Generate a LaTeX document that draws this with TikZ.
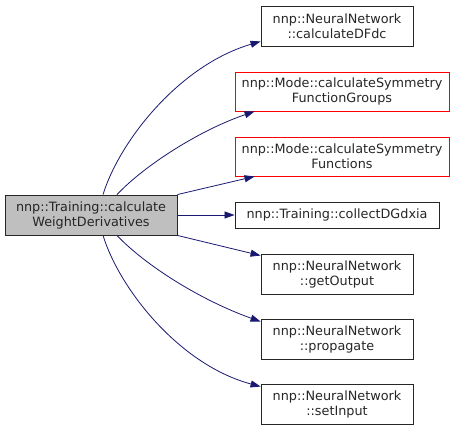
\documentclass[tikz,border=0pt]{standalone}
\usepackage{fontspec}
\setmainfont{DejaVu Sans}
\usetikzlibrary{arrows.meta}
\definecolor{edgeblue}{HTML}{191970}
\definecolor{boxgray}{HTML}{BFBFBF}

\begin{document}
\begin{tikzpicture}[x=1pt,y=-1pt,
  fn/.style={draw=black!85,line width=0.9pt,rectangle,align=center,inner sep=0pt,text=black!85,
    font=\fontsize{12.8}{15}\selectfont,minimum height=40pt,minimum width=152pt},
  redfn/.style={fn,draw=red,minimum height=39pt,minimum width=214pt},
  call/.style={draw=edgeblue,line width=0.8pt,-{Triangle[length=10pt,width=7pt]}}]
\useasboundingbox (0,0) rectangle (455,431);
\node[fn,fill=boxgray,minimum width=172pt] (main) at (91,215) {nnp::Training::calculate\\WeightDerivatives};
\node[fn] (dfdc) at (337,26) {nnp::NeuralNetwork\\::calculateDFdc};
\node[redfn] (groups) at (342,91.5) {nnp::Mode::calculateSymmetry\\FunctionGroups};
\node[redfn] (funcs) at (342,156.5) {nnp::Mode::calculateSymmetry\\Functions};
\node[fn,minimum width=204pt,minimum height=26pt] (collect) at (337,215) {nnp::Training::collectDGdxia};
\node[fn] (getout) at (337,274) {nnp::NeuralNetwork\\::getOutput};
\node[fn] (prop) at (337,339) {nnp::NeuralNetwork\\::propagate};
\node[fn] (setin) at (337,404) {nnp::NeuralNetwork\\::setInput};
% calls
\draw[call] ([xshift=12pt]main.north) .. controls (120,140) and (180,65) .. ([yshift=5pt]dfdc.south west);
\draw[call] ([xshift=26pt]main.north) .. controls (145,165) and (200,130) .. ([xshift=20pt]groups.south west);
\draw[call] (main.north east) -- ([xshift=20pt]funcs.south west);
\draw[call] (main.east) -- (collect.west);
\draw[call] (main.south east) -- ([yshift=-2pt]getout.north west);
\draw[call] ([xshift=26pt]main.south) .. controls (145,265) and (200,300) .. ([yshift=-3pt]prop.north west);
\draw[call] ([xshift=12pt]main.south) .. controls (120,290) and (180,365) .. ([yshift=-3pt]setin.north west);
\end{tikzpicture}
\end{document}
